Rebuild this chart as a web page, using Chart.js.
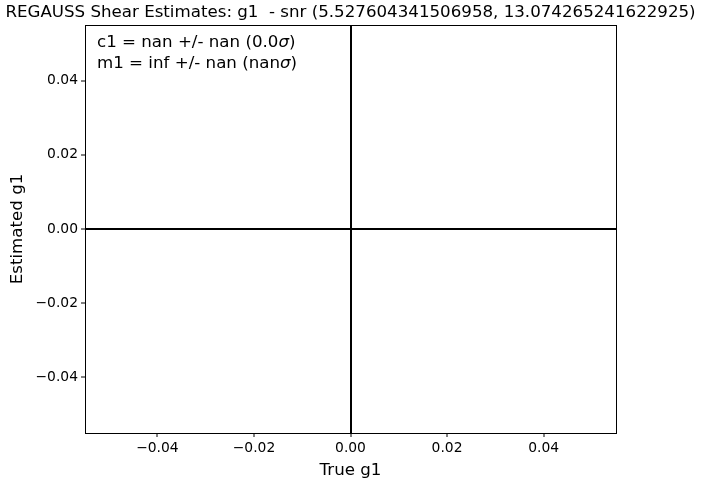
<!DOCTYPE html>
<html>
<head>
<meta charset="utf-8">
<script src="https://cdn.jsdelivr.net/npm/chart.js@4.4.1/dist/chart.umd.min.js"></script>
<style>
    body { margin: 0; background: #fff; }
    canvas { display: block; }
</style>
</head>
<body>
<canvas id="shearChart" width="701" height="482"></canvas>
<script>
// axis ranges and ticks
const xRange = [-0.055, 0.055];
const yRange = [-0.055, 0.055];
const xTicks = [-0.04, -0.02, 0.00, 0.02, 0.04];
const yTicks = [-0.04, -0.02, 0.00, 0.02, 0.04];

// reference lines (axhline / axvline)
const xRefLines = [0];
const yRefLines = [0];

// no estimated points survive (all nan)
const trueG1 = [];
const estG1 = [];

const titleText = 'REGAUSS Shear Estimates: g1  - snr (5.527604341506958, 13.074265241622925)';
const fitLines = [
    ['c1 = nan +/- nan (0.0', 'σ', ')'],
    ['m1 = inf +/- nan (nan', 'σ', ')']
];

const FONT = '"DejaVu Sans", sans-serif';

const fmtTick = (v) => (v < 0 ? '\u2212' : '') + Math.abs(v).toFixed(2);

const frameAndText = {
    id: 'frameAndText',
    afterDraw(chart) {
        const { ctx, chartArea } = chart;
        const l = Math.round(chartArea.left), t = Math.round(chartArea.top);
        const r = Math.round(chartArea.right), b = Math.round(chartArea.bottom);
        ctx.save();
        ctx.strokeStyle = '#000';
        ctx.lineWidth = 1;
        ctx.strokeRect(l + 0.5, t + 0.5, r - l, b - t);

        ctx.fillStyle = '#000';
        ctx.textBaseline = 'middle';
        let y = chartArea.top + 18;
        fitLines.forEach(parts => {
            let x = chartArea.left + 12;
            parts.forEach((part, i) => {
                ctx.font = (i === 1 ? 'italic ' : '') + '16.67px ' + FONT;
                ctx.fillText(part, x, y);
                x += ctx.measureText(part).width;
            });
            y += 21;
        });
        ctx.restore();
    }
};

const gridFor = (refs) => ({
    drawOnChartArea: true,
    color: (c) => c.tick && refs.includes(c.tick.value) ? '#000' : 'rgba(0,0,0,0)',
    lineWidth: (c) => c.tick && refs.includes(c.tick.value) ? 2 : 0,
    tickColor: '#000',
    tickWidth: 1,
    tickLength: 4
});

const ctx = document.getElementById('shearChart').getContext('2d');

new Chart(ctx, {
    type: 'scatter',
    data: {
        datasets: [{
            data: trueG1.map((x, i) => ({ x, y: estG1[i] })),
            backgroundColor: '#1f77b4',
            pointRadius: 3
        }]
    },
    options: {
        responsive: false,
        animation: false,
        devicePixelRatio: 1,
        layout: { padding: 0 },
        plugins: {
            legend: { display: false },
            tooltip: { enabled: false },
            title: {
                display: true,
                text: titleText,
                color: '#000',
                font: { family: FONT, size: 16.67, weight: 'normal', lineHeight: 1.2 },
                padding: { top: 3, bottom: 2 }
            }
        },
        scales: {
            x: {
                type: 'linear',
                min: xRange[0],
                max: xRange[1],
                afterBuildTicks: (scale) => { scale.ticks = xTicks.map(v => ({ value: v })); },
                afterFit: (scale) => { scale.height = 49; },
                grid: gridFor(xRefLines),
                border: { display: false },
                ticks: {
                    color: '#000',
                    padding: 3,
                    maxRotation: 0,
                    font: { family: FONT, size: 13.89 },
                    callback: (v) => fmtTick(v)
                },
                title: {
                    display: true,
                    text: 'True g1',
                    color: '#000',
                    font: { family: FONT, size: 16.67 },
                    padding: { top: 0, bottom: 1 }
                }
            },
            y: {
                type: 'linear',
                min: yRange[0],
                max: yRange[1],
                afterBuildTicks: (scale) => { scale.ticks = yTicks.map(v => ({ value: v })); },
                afterFit: (scale) => { scale.width = 85; },
                grid: gridFor(yRefLines),
                border: { display: false },
                ticks: {
                    color: '#000',
                    padding: 3,
                    font: { family: FONT, size: 13.89 },
                    callback: (v) => fmtTick(v)
                },
                title: {
                    display: true,
                    text: 'Estimated g1',
                    color: '#000',
                    font: { family: FONT, size: 16.67 },
                    padding: { top: 8, bottom: 0 }
                }
            },
            // empty right-hand margin, same as the figure's whitespace
            yRight: {
                type: 'linear',
                position: 'right',
                min: yRange[0],
                max: yRange[1],
                afterFit: (scale) => { scale.width = 85; },
                grid: { display: false, drawOnChartArea: false },
                border: { display: false },
                ticks: { display: false }
            }
        }
    },
    plugins: [frameAndText]
});
</script>
</body>
</html>
